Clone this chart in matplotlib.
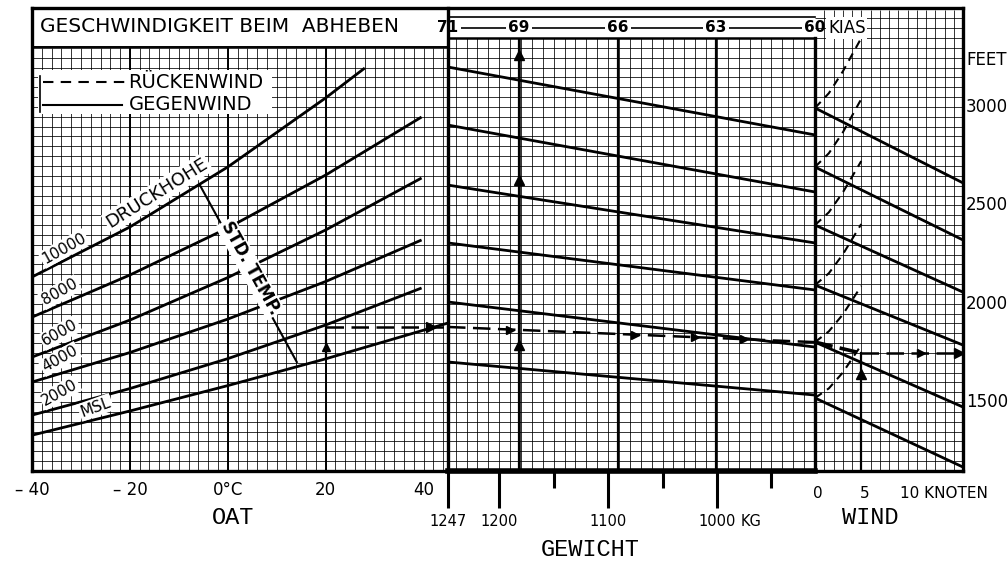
import matplotlib
matplotlib.use("Agg")
import matplotlib.pyplot as plt
import numpy as np

# ---------------------------------------------------------------- data
# shared vertical scale of all three panels: take-off distance, feet
FT_RANGE = (1150, 3503)
FEET_TICKS = [3000, 2500, 2000, 1500]

# OAT panel, pressure altitude lines (OAT in °C -> feet)
OAT_RANGE = (-40, 45)
OAT_TICKS = [-40, -20, 0, 20, 40]
OAT_TICK_LABELS = ["– 40", "– 20", "0°C", "20", "40"]
ALT_NAMES = ["10000", "8000", "6000", "4000", "2000", "MSL"]
ALT_OAT = [[-40, -20, 0, 20, 28.0],
           [-40, -20, 0, 20, 39.6],
           [-40, -20, 0, 20, 39.6],
           [-40, -20, 0, 20, 39.6],
           [-40, -20, 0, 20, 39.6],
           [-40, -20, 0, 20, 45.0]]
ALT_FT = [[2136, 2390, 2695, 3046, 3198],
          [1932, 2146, 2385, 2654, 2949],
          [1729, 1917, 2133, 2375, 2639],
          [1602, 1752, 1922, 2113, 2324],
          [1434, 1569, 1721, 1892, 2080],
          [1332, 1455, 1584, 1720, 1902]]
STD_TEMP_OAT = [-5.7, 14.1]
STD_TEMP_FT = [2603, 1704]

# weight panel (kg), guide lines from 1247 kg to the right edge
WEIGHT_RANGE = (1247, 910)
WEIGHT_MAJOR = [1247, 1200, 1100, 1000]
WEIGHT_MAJOR_LABELS = ["1247", "1200", "1100", "1000"]
WEIGHT_MINOR = [1150, 1050, 950]
KIAS = [71, 69, 66, 63, 60]
KIAS_WEIGHT = [1247, 1182, 1091, 1001, 910]
WEIGHT_FT_LEFT = [3203, 2908, 2603, 2309, 2009, 1704]
WEIGHT_FT_RIGHT = [2858, 2568, 2309, 2070, 1780, 1536]

# wind panel (knots): headwind lines 0 -> 16 kt, tailwind curves
WIND_RANGE = (0, 16)
WIND_TICKS = [0, 5]
HEAD_FT_START = [2995, 2695, 2400, 2095, 1805, 1521]
HEAD_FT_END = [2614, 2324, 2059, 1790, 1475, 1170]
TAIL_KT = [0, 1.5, 3, 5]
TAIL_FT = [[2995, 3070, 3180, 3350],
           [2695, 2765, 2870, 3040],
           [2400, 2465, 2565, 2725],
           [2095, 2155, 2250, 2405],
           [1805, 1860, 1945, 2090],
           [1521, 1570, 1650, 1790]]

# worked example
EX_OAT = 20
EX_FT_OAT = [1720, 1882]
EX_WEIGHT_X = [1247, 910]
EX_FT_WEIGHT = [1882, 1805]
EX_WEIGHT = 1182
EX_WEIGHT_ARROWS = [1790, 2629, 3264]
EX_WIND = 5
EX_FT_WIND = [1805, 1749]

# ---------------------------------------------------------------- layout
FIG_W, FIG_H = 1008, 562


def fx(px):
    return px / FIG_W


def fy(py):
    return 1 - py / FIG_H


def box(x0, y0, x1, y1):
    return [fx(x0), fy(y1), fx(x1) - fx(x0), fy(y0) - fy(y1)]


fig = plt.figure(figsize=(FIG_W / 100, FIG_H / 100), dpi=100)
fig.patch.set_facecolor("white")

ax_oat = fig.add_axes(box(32, 8, 448, 471))
ax_wt = fig.add_axes(box(448, 8, 815, 471))
ax_wind = fig.add_axes(box(815, 8, 963, 471))
for ax, xr in [(ax_oat, OAT_RANGE), (ax_wt, WEIGHT_RANGE), (ax_wind, WIND_RANGE)]:
    ax.set_xlim(*xr)
    ax.set_ylim(*FT_RANGE)
    ax.axis("off")

K = "black"
GRID = dict(color=K, lw=0.7, alpha=0.8, zorder=1)
GUIDE = dict(color=K, lw=2.0, solid_capstyle="butt", zorder=3)
txt = dict(family="DejaVu Sans", color=K)
mono = dict(family="Liberation Mono", color=K)

# ---- grids
ft_grid = np.arange(1150, 3301, 50)
ax_oat.hlines(ft_grid, -40, 45, **GRID)
ax_oat.vlines(np.arange(-38, 45, 2), 1150, 3300, **GRID)
ax_oat.vlines([-20, 0, 20], 1150, 3300, color=K, lw=1.4, zorder=1)

ax_wt.hlines(np.arange(1150, 3351, 50), 1247, 910, **GRID)
ax_wt.vlines(np.arange(1240, 910, -10), 1150, 3351, **GRID)
ax_wt.vlines(KIAS_WEIGHT[1:-1], 1150, 3452, color=K, lw=1.6, zorder=2)

ax_wind.hlines(np.arange(1150, 3500, 50), 0, 16, **GRID)
ax_wind.vlines(np.arange(1, 16, 1), 1150, 3493, **GRID)

# ---- frame
frame = dict(color=K, lw=2.4, zorder=6, solid_capstyle="projecting")
fig.add_artist(plt.Line2D([fx(32), fx(963)], [fy(8), fy(8)], **frame))
fig.add_artist(plt.Line2D([fx(32), fx(32)], [fy(8), fy(471)], **frame))
fig.add_artist(plt.Line2D([fx(32), fx(963)], [fy(471), fy(471)], **frame))
fig.add_artist(plt.Line2D([fx(963), fx(963)], [fy(8), fy(471)], **frame))
fig.add_artist(plt.Line2D([fx(448), fx(448)], [fy(8), fy(471)], **frame))
fig.add_artist(plt.Line2D([fx(815), fx(815)], [fy(38), fy(471)], **frame))
fig.add_artist(plt.Line2D([fx(32), fx(448)], [fy(47), fy(47)], color=K, lw=1.4))
fig.add_artist(plt.Line2D([fx(448), fx(815)], [fy(38), fy(38)], color=K, lw=1.8))
fig.add_artist(plt.Line2D([fx(448), fx(815)], [fy(17), fy(17)], color=K, lw=1.2))
fig.add_artist(plt.Line2D([fx(448), fx(815)], [fy(471), fy(471)], color=K, lw=4, zorder=6))

# ---- title and legend
fig.text(fx(40), fy(27), "GESCHWINDIGKEIT BEIM  ABHEBEN", fontsize=14.5, va="center", **txt)
fig.patches.append(plt.Rectangle((fx(38), fy(114)), fx(272) - fx(38), fy(70) - fy(114),
                                 transform=fig.transFigure, fc="white", ec="none", zorder=4))
fig.add_artist(plt.Line2D([fx(43), fx(127)], [fy(82), fy(82)], color=K, lw=1.5,
                          dashes=(5, 3.5), zorder=5))
fig.add_artist(plt.Line2D([fx(43), fx(122)], [fy(105), fy(105)], color=K, lw=1.5, zorder=5))
fig.add_artist(plt.Line2D([fx(40), fx(40)], [fy(76), fy(112)], color=K, lw=1.2, zorder=5))
fig.text(fx(128), fy(82), "RÜCKENWIND", fontsize=14, va="center", zorder=5, **txt)
fig.text(fx(129), fy(105), "GEGENWIND", fontsize=14, va="center", zorder=5, **txt)

# ---- OAT panel curves
white = dict(boxstyle="square,pad=0.1", fc="white", ec="none")
for name, xs, ys in zip(ALT_NAMES, ALT_OAT, ALT_FT):
    ax_oat.plot(xs, ys, **GUIDE)
    x0 = -29.5 if name == "MSL" else -37.0
    y0 = np.interp(x0, xs, ys)
    rot = 20 if name == "MSL" else 29
    ax_oat.annotate(name, (x0, y0), xytext=(0, 2), textcoords="offset points",
                    rotation=rot, rotation_mode="anchor", ha="left", va="bottom",
                    fontsize=11, bbox=white, zorder=4, **txt)
x0 = -23.5
ax_oat.annotate("DRUCKHOHE", (x0, np.interp(x0, ALT_OAT[0], ALT_FT[0])), xytext=(0, 3),
                textcoords="offset points", rotation=32, rotation_mode="anchor",
                ha="left", va="bottom", fontsize=13, bbox=white, zorder=4, **txt)
ax_oat.plot(STD_TEMP_OAT, STD_TEMP_FT, color=K, lw=1.5, zorder=3)
t = 0.47
ax_oat.text(STD_TEMP_OAT[0] + t * (STD_TEMP_OAT[1] - STD_TEMP_OAT[0]) + 1.0,
            STD_TEMP_FT[0] + t * (STD_TEMP_FT[1] - STD_TEMP_FT[0]),
            "STD. TEMP.", rotation=-61, rotation_mode="anchor", ha="center", va="center",
            fontsize=12, fontweight="bold", bbox=white, zorder=4, **txt)

# ---- weight panel
for yl, yr in zip(WEIGHT_FT_LEFT, WEIGHT_FT_RIGHT):
    ax_wt.plot(WEIGHT_RANGE, [yl, yr], **GUIDE)

# ---- wind panel
for ys, ye in zip(HEAD_FT_START, HEAD_FT_END):
    ax_wind.plot(WIND_RANGE, [ys, ye], **GUIDE)
for ys in TAIL_FT:
    ax_wind.plot(TAIL_KT, ys, color=K, lw=1.5, dashes=(4, 3), zorder=3)

# ---- worked example
ex = dict(color=K, lw=1.8, dashes=(7, 3), zorder=5)
ax_oat.plot([EX_OAT, EX_OAT], EX_FT_OAT, color=K, lw=1.6, zorder=5)
ax_oat.plot(EX_OAT, np.mean(EX_FT_OAT) - 20, marker="^", ms=6, color=K, zorder=6)
ax_oat.plot([EX_OAT, OAT_RANGE[1]], [EX_FT_OAT[1]] * 2, **ex)
ax_oat.plot(41.5, EX_FT_OAT[1], marker=">", ms=7, color=K, zorder=6)
ax_wt.plot(EX_WEIGHT_X, EX_FT_WEIGHT, **ex)
for w in [1190, 1075, 1020, 975]:
    ax_wt.plot(w, np.interp(w, EX_WEIGHT_X[::-1], EX_FT_WEIGHT[::-1]),
               marker=">", ms=6, color=K, zorder=6)
ax_wt.plot([EX_WEIGHT, EX_WEIGHT], [1150, 3351], color=K, lw=1.8, zorder=5)
for yv in EX_WEIGHT_ARROWS:
    ax_wt.plot(EX_WEIGHT, yv, marker="^", ms=7, color=K, zorder=6)
ax_wind.plot([0, EX_WIND], EX_FT_WIND, color=K, lw=2.6, dashes=(5, 2), zorder=5)
ax_wind.plot([EX_WIND, 16], [EX_FT_WIND[1]] * 2, **ex)
ax_wind.plot(11.5, EX_FT_WIND[1], marker=">", ms=6, color=K, zorder=6)
ax_wind.plot(15.6, EX_FT_WIND[1], marker=">", ms=7, color=K, zorder=6, clip_on=False)
ax_wind.plot([EX_WIND, EX_WIND], [1150, EX_FT_WIND[1]], color=K, lw=1.6, zorder=5)
ax_wind.plot(EX_WIND, 1645, marker="^", ms=7, color=K, zorder=6)

# ---- KIAS strip
ax_wt.hlines(3402, 1247, 910, color=K, lw=1.2, zorder=2)
for w, k in zip(KIAS_WEIGHT, KIAS):
    ax_wt.text(w, 3402, str(k), ha="center", va="center", fontsize=11, fontweight="bold",
               bbox=dict(boxstyle="square,pad=0.15", fc="white", ec="none"), zorder=7,
               clip_on=False, **txt)
ax_wind.text(1.4, 3402, "KIAS", ha="left", va="center", fontsize=12, zorder=6,
             bbox=dict(boxstyle="square,pad=0.1", fc="white", ec="none"), **txt)

# ---- right feet scale
fig.text(fx(966), fy(60), "FEET", fontsize=12, va="center", **txt)
for f in FEET_TICKS:
    fig.text(fx(966), ax_wind.transData.transform((0, f))[1] / FIG_H, str(f),
             fontsize=12, va="center", **txt)

# ---- bottom scales
for v, lab in zip(OAT_TICKS, OAT_TICK_LABELS):
    xf = ax_oat.transData.transform((v, 0))[0] / FIG_W
    fig.text(xf, fy(490), lab, ha="center", va="center", fontsize=12, **txt)
fig.text(fx(233), fy(517), "OAT", ha="center", va="center", fontsize=17, **mono)

ax_wt.vlines(WEIGHT_MAJOR, 1150 - 37 * 2350 / 463, 1150, color=K, lw=2.2, clip_on=False)
ax_wt.vlines(WEIGHT_MINOR, 1150 - 17 * 2350 / 463, 1150, color=K, lw=2.2, clip_on=False)
for w, lab in zip(WEIGHT_MAJOR, WEIGHT_MAJOR_LABELS):
    xf = ax_wt.transData.transform((w, 0))[0] / FIG_W
    fig.text(xf, fy(522), lab, ha="center", va="center", fontsize=10.5, **txt)
xf = ax_wt.transData.transform((WEIGHT_MAJOR[-1], 0))[0] / FIG_W
fig.text(xf + fx(24), fy(522), "KG", ha="left", va="center", fontsize=10.5, **txt)
fig.text(fx(590), fy(549), "GEWICHT", ha="center", va="center", fontsize=17, **mono)

for v in WIND_TICKS:
    xf = ax_wind.transData.transform((v, 0))[0] / FIG_W
    fig.text(xf + fx(3), fy(493), str(v), ha="center", va="center", fontsize=11, **txt)
xf = ax_wind.transData.transform((10, 0))[0] / FIG_W
fig.text(xf - fx(7), fy(493), "10 KNOTEN", ha="left", va="center", fontsize=11, **txt)
fig.text(fx(870), fy(518), "WIND", ha="center", va="center", fontsize=17, **mono)

fig.savefig("out.png", dpi=100)
